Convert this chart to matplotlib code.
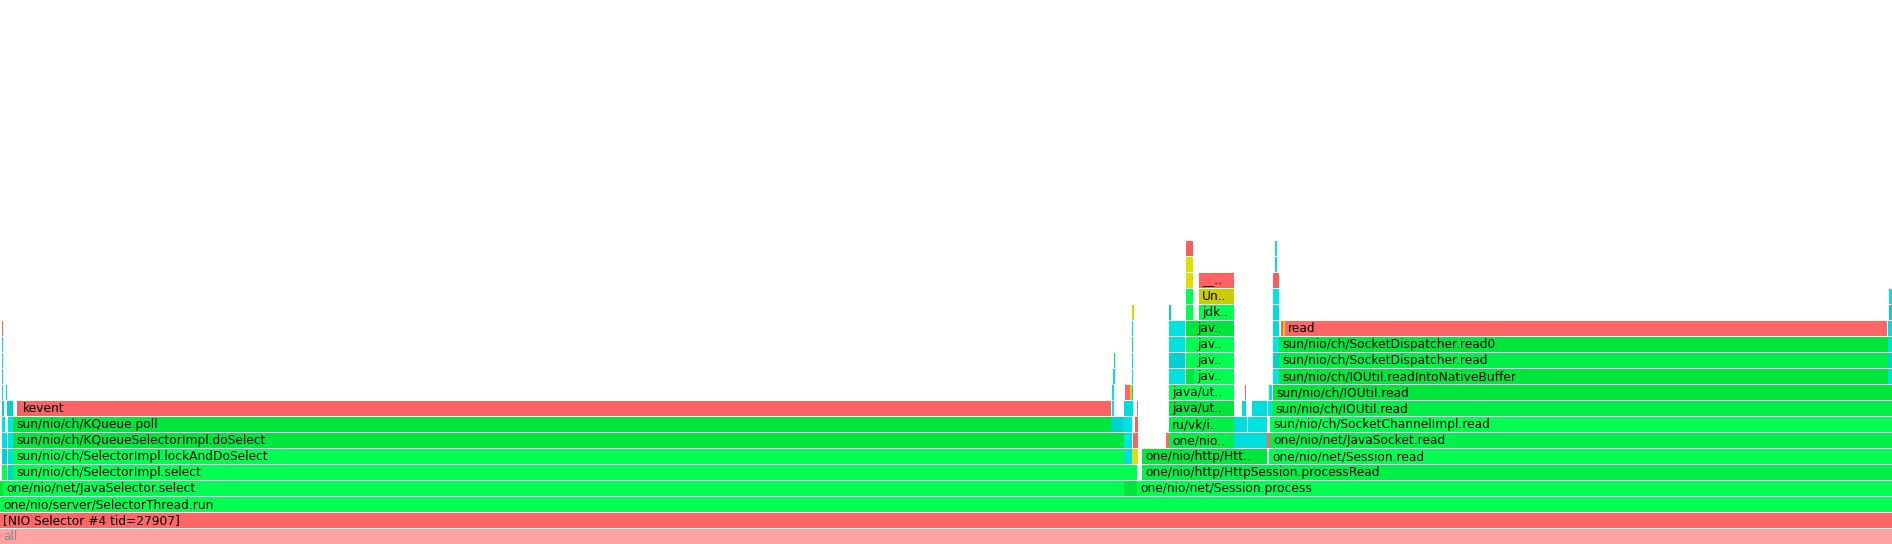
import zlib
import matplotlib
matplotlib.use('Agg')
import matplotlib.pyplot as plt
from matplotlib.patches import Rectangle

# flame graph of one thread, samples along x, stack depth along y
TOTAL = 1892

# one entry per frame: stack level, first sample, sample count, name, kind
# kinds: a = all, j = java, i = inlined, n = native, c = c++
LEVELS = [
    0,
    1,
    2,
    3, 3, 3, 3,
    4, 4, 4, 4, 4, 4,
    5, 5, 5, 5, 5, 5, 5,
    6, 6, 6, 6, 6, 6, 6, 6, 6, 6,
    7, 7, 7, 7, 7, 7, 7, 7, 7, 7, 7,
    8, 8, 8, 8, 8, 8, 8, 8, 8, 8, 8, 8, 8,
    9, 9, 9, 9, 9, 9, 9, 9, 9, 9,
    10, 10, 10, 10, 10, 10, 10, 10, 10,
    11, 11, 11, 11, 11, 11, 11, 11, 11,
    12, 12, 12, 12, 12, 12, 12, 12,
    13, 13, 13, 13, 13, 13, 13, 13, 13, 13,
    14, 14, 14, 14, 14, 14,
    15, 15, 15, 15,
    16, 16, 16,
    17, 17,
    18, 18,
]
STARTS = [
    0,
    0,
    0,
    0, 3, 1124, 1137,
    2, 8, 13, 1124, 1132, 1142,
    2, 8, 13, 1124, 1132, 1142, 1269,
    2, 8, 13, 1124, 1133, 1166, 1169, 1234, 1267, 1270,
    2, 8, 13, 1111, 1118, 1124, 1135, 1169, 1234, 1248, 1270,
    2, 7, 17, 20, 1112, 1124, 1132, 1137, 1169, 1242, 1252, 1268, 1272,
    2, 6, 1112, 1125, 1130, 1132, 1169, 1245, 1269, 1273,
    2, 1113, 1132, 1169, 1186, 1194, 1273, 1279, 1888,
    2, 1114, 1132, 1169, 1186, 1194, 1273, 1279, 1888,
    2, 1132, 1169, 1186, 1194, 1273, 1279, 1888,
    2, 1132, 1169, 1186, 1194, 1273, 1281, 1283, 1285, 1888,
    1132, 1169, 1186, 1199, 1273, 1889,
    1186, 1199, 1273, 1889,
    1186, 1199, 1273,
    1186, 1275,
    1186, 1275,
]
WIDTHS = [
    1892,
    1892,
    1892,
    3, 1121, 13, 755,
    5, 5, 1111, 8, 5, 750,
    5, 5, 1111, 8, 6, 125, 623,
    5, 5, 1111, 8, 5, 3, 65, 33, 3, 622,
    3, 5, 1098, 7, 6, 8, 3, 65, 13, 19, 622,
    2, 6, 3, 1091, 2, 8, 1, 1, 65, 4, 15, 4, 620,
    1, 1, 2, 5, 2, 1, 65, 1, 3, 619,
    1, 1.5, 1, 16, 8, 40, 6, 609, 4,
    1, 1, 1, 16, 8, 40, 6, 609, 4,
    1, 1, 16, 8, 40, 6, 609, 4,
    1, 1, 16, 8, 40, 6, 2, 2, 602, 4,
    2, 2, 7, 35, 6, 3,
    7, 35, 6, 3,
    7, 35, 6,
    7, 2,
    7, 2,
]
NAMES = [
    'all',
    '[NIO Selector #4 tid=27907]',
    'one/nio/server/SelectorThread.run',
    '', 'one/nio/net/JavaSelector.select', '', 'one/nio/net/Session.process',
    '', '', 'sun/nio/ch/SelectorImpl.select', '', '', 'one/nio/http/HttpSession.processRead',
    '', '', 'sun/nio/ch/SelectorImpl.lockAndDoSelect', '', '', 'one/nio/http/Htt..',
    'one/nio/net/Session.read',
    '', '', 'sun/nio/ch/KQueueSelectorImpl.doSelect', '', '', '', 'one/nio..', '', '',
    'one/nio/net/JavaSocket.read',
    '', '', 'sun/nio/ch/KQueue.poll', '', '', '', '', 'ru/vk/i..', '', '',
    'sun/nio/ch/SocketChannelImpl.read',
    '', '', '', 'kevent', '', '', '', '', 'java/ut..', '', '', '', 'sun/nio/ch/IOUtil.read',
    '', '', '', '', '', '', 'java/ut..', '', '', 'sun/nio/ch/IOUtil.read',
    '', '', '', '', '', 'jav..', '', 'sun/nio/ch/IOUtil.readIntoNativeBuffer', '',
    '', '', '', '', '', 'jav..', '', 'sun/nio/ch/SocketDispatcher.read', '',
    '', '', '', '', 'jav..', '', 'sun/nio/ch/SocketDispatcher.read0', '',
    '', '', '', '', 'jav..', '', '', '', 'read', '',
    '', '', '', 'jdk..', '', '',
    '', 'Un..', '', '',
    '', '__..', '',
    '', '',
    '', '',
]
KINDS = [
    'a',
    'n',
    'j',
    'j', 'j', 'j', 'j',
    'j', 'i', 'j', 'j', 'j', 'j',
    'i', 'i', 'j', 'i', 'c', 'j', 'j',
    'i', 'i', 'j', 'i', 'n', 'n', 'j', 'i', 'n', 'j',
    'i', 'i', 'j', 'i', 'i', 'i', 'n', 'j', 'i', 'i', 'j',
    'i', 'i', 'n', 'n', 'i', 'i', 'i', 'n', 'j', 'i', 'i', 'i', 'j',
    'i', 'i', 'i', 'n', 'c', 'i', 'j', 'n', 'i', 'j',
    'i', 'i', 'i', 'i', 'j', 'j', 'i', 'j', 'i',
    'i', 'j', 'i', 'i', 'j', 'j', 'i', 'j', 'i',
    'i', 'i', 'i', 'j', 'j', 'i', 'j', 'i',
    'n', 'i', 'i', 'j', 'j', 'i', 'n', 'c', 'n', 'i',
    'c', 'i', 'j', 'j', 'i', 'i',
    'j', 'c', 'i', 'i',
    'c', 'n', 'n',
    'c', 'i',
    'n', 'i',
]

palette = {
    'a': ['#ffa3a3'],
    'j': ['#00ff50', '#00e63c', '#00f048'],
    'i': ['#00dddd', '#00e3e3', '#00d2d2'],
    'n': ['#ff6666', '#f85e5e', '#fd6363'],
    'c': ['#d6d600', '#cccc00', '#e0e000'],
}

fig = plt.figure(figsize=(18.92, 5.44), dpi=100)
ax = fig.add_axes([0, 0, 1, 1])
ax.set_xlim(0, TOTAL)
ax.set_ylim(0, 34)
ax.axis('off')

h = 15 / 16
for i in range(len(LEVELS)):
    lvl, s, w, name, k = LEVELS[i], STARTS[i], WIDTHS[i], NAMES[i], KINDS[i]
    tones = palette[k]
    c = tones[zlib.crc32((name + str(i)).encode()) % len(tones)]
    ax.add_patch(Rectangle((s, lvl), w, h, facecolor=c, edgecolor='none', lw=0))
    if name:
        ax.text(s + 3, lvl + h / 2, name, ha='left', va='center', fontsize=8.8,
                family='DejaVu Sans', color='#888888' if k == 'a' else 'black')

fig.savefig('out.png', dpi=100)
